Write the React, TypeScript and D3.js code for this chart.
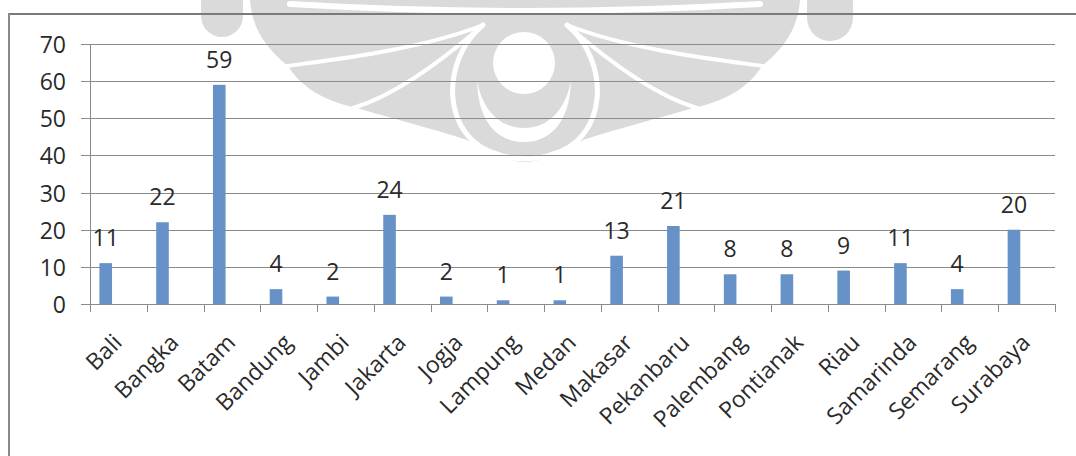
import React from "react";
import * as d3 from "d3";

const categories = ["Bali","Bangka","Batam","Bandung","Jambi","Jakarta","Jogja","Lampung","Medan","Makasar","Pekanbaru","Palembang","Pontianak","Riau","Samarinda","Semarang","Surabaya"];
const values = [11,22,59,4,2,24,2,1,1,13,21,8,8,9,11,4,20];
const yTicks = [0,10,20,30,40,50,60,70];

const W = 1076, H = 456;
const FONT = "'Open Sans', sans-serif";

function Watermark() {
  const g = "#dadada";
  return (
    <g>
      {/* main silhouette */}
      <path fill={g} d="M 250 0 C 252 25 262 45 288 66 C 300 85 320 100 357 108 C 390 118 430 128 467 140 C 490 152 508 162 525 162 C 542 162 560 152 583 140 C 620 128 660 118 693 108 C 730 100 750 85 762 66 C 788 45 798 25 800 0 Z" />
      <circle cx={222} cy={16} r={21} fill={g} />
      <path fill={g} d="M 201 0 L 243 0 L 243 16 L 201 16 Z" />
      <circle cx={830} cy={18} r={23} fill={g} />
      <path fill={g} d="M 807 0 L 853 0 L 853 18 L 807 18 Z" />
      {/* white details */}
      <g fill="none" stroke="#fff" strokeLinecap="round">
        <path strokeWidth={6} d="M 290 4 Q 525 18 760 4" />
        <path strokeWidth={4} d="M 287 66 C 330 60 420 50 483 25" />
        <path strokeWidth={4} d="M 353 108 C 380 100 420 80 483 25" />
        <path strokeWidth={4} d="M 763 66 C 720 60 630 50 567 25" />
        <path strokeWidth={4} d="M 697 108 C 670 100 630 80 567 25" />
        <path strokeWidth={5} d="M 483 25 C 440 60 440 140 500 155 C 515 160 535 160 550 155 C 610 140 610 60 567 25" />
      </g>
      <path fill="#fff" d="M 477 80 C 478 125 500 142 524 142 C 548 142 570 125 571 80 C 566 110 548 128 524 128 C 500 128 482 110 477 80 Z" />
      <circle cx={524} cy={63} r={31} fill="#fff" />
    </g>
  );
}

export default function App() {
  const left = 90, right = 1055, top = 44, bottom = 304;
  const x = d3.scaleBand<string>().domain(categories).range([left, right]).padding(0);
  const y = d3.scaleLinear().domain([0, 70]).range([bottom, top]);
  const bw = x.bandwidth();
  const barOff = bw * 0.166, barW = bw * 0.222;
  const grid = "#8a8a8a";
  const textColor = "#2a2a2a";

  return (
    <svg width={W} height={H} style={{ position: "absolute", left: 0, top: 0, background: "#fff" }} fontFamily={FONT}>
      <rect x={0} y={0} width={W} height={H} fill="#fff" />
      <Watermark />
      {/* border */}
      <line x1={9} x2={W} y1={14} y2={14} stroke="#7a7a7a" strokeWidth={2} />
      <line x1={9} x2={9} y1={13} y2={H} stroke="#8a8a8a" strokeWidth={2} />
      {/* gridlines */}
      {yTicks.map(t => (
        <line key={t} x1={81} x2={right} y1={Math.round(y(t)) + 0.5} y2={Math.round(y(t)) + 0.5} stroke={grid} strokeWidth={1} />
      ))}
      {/* y axis */}
      <line x1={left + 0.5} x2={left + 0.5} y1={top} y2={bottom + 1} stroke={grid} strokeWidth={1} />
      {yTicks.map(t => (
        <text key={t} x={66} y={y(t)} textAnchor="end" dominantBaseline="central" fontSize={23} fill={textColor}>{t}</text>
      ))}
      {/* x ticks */}
      {[...categories.map(c => x(c) as number), right].map((px, i) => (
        <line key={i} x1={Math.round(px) + 0.5} x2={Math.round(px) + 0.5} y1={bottom} y2={bottom + 8} stroke={grid} strokeWidth={1} />
      ))}
      {/* bars */}
      {categories.map((c, i) => (
        <rect key={c} x={(x(c) as number) + barOff} y={y(values[i])} width={barW} height={y(0) - y(values[i])} fill="#6692c8" />
      ))}
      {/* data labels */}
      {categories.map((c, i) => (
        <text key={c} x={(x(c) as number) + barOff + barW / 2} y={y(values[i]) - 17} textAnchor="middle" fontSize={23} fill={textColor}>{values[i]}</text>
      ))}
      {/* category labels */}
      {categories.map(c => {
        const cx = (x(c) as number) + bw / 2 + 5;
        return (
          <text key={c} transform={`translate(${cx},344) rotate(-45)`} textAnchor="end" fontSize={23} fill={textColor}>{c}</text>
        );
      })}
    </svg>
  );
}
